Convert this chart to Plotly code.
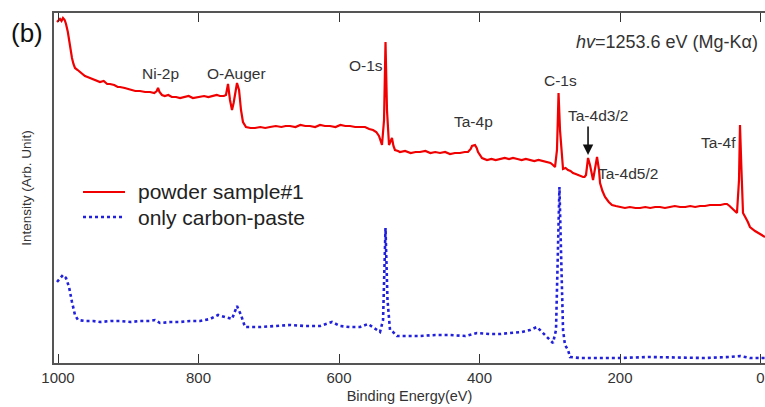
import plotly.graph_objects as go

# XPS survey spectra, binding energy in eV, intensity in arbitrary units
powder_be = [1001.4, 999, 997.2, 995, 992.9, 990.5, 988.6, 986, 984.3, 982, 980.1, 978, 975.8, 972, 968.7, 965,
             961.6, 958, 954.4, 950, 945, 940.2, 935, 930, 926, 920, 915, 911.7, 905, 900, 897.5, 890, 883.3, 876,
             869, 863, 859.5, 857.6, 855.5, 852, 848, 843, 838, 832, 826.3, 820, 814, 808, 802, 797.9, 792, 786,
             780, 774, 769.4, 764, 760.9, 758, 755.2, 752.3, 750, 748, 745.2, 742.3, 739.5, 736.7, 732.4, 726,
             719.6, 712, 705, 698.2, 690, 682, 676, 669.8, 662, 655, 648, 641.3, 634, 627, 620, 612.8, 605, 598,
             591, 584.3, 577, 570, 563, 557, 551.6, 547, 543.1, 538.8, 535.9, 533.8, 531.7, 528.8, 526.5, 524.6,
             522.5, 520.3, 516, 513.2, 506, 498, 491, 484.7, 477, 470, 463, 456.2, 449, 442, 435, 427.8, 421,
             416.4, 412.5, 410.7, 406.4, 404, 402.1, 399, 396.4, 389.3, 383, 377, 370.8, 364, 358, 352.3, 346,
             340, 334, 328.1, 322, 316, 310, 304, 299, 295.4, 292.5, 289.7, 287.5, 285.4, 283, 281.1, 277.5, 274,
             270.5, 266.9, 263, 259.8, 256, 252.6, 250.5, 248.4, 245.5, 242.7, 238.4, 235.6, 232.7, 229.9, 228.4,
             225, 221.3, 216, 211.4, 206, 200, 193, 186, 178, 171.5, 164, 157, 150, 143.1, 136, 129, 122, 114.6,
             107, 100, 93, 86.1, 79, 72, 64.8, 57, 51, 47.7, 44, 40.6, 37, 33.5, 30.6, 29.2, 27.1, 24.9, 22.5,
             20.6, 18, 15, 12, 7.8, 3, 0.7, -3, -6.4]
powder_int = [341, 343, 344, 342, 345, 343, 339, 331, 323, 313, 305, 299, 295, 293, 291, 289,
              287, 286, 285, 284, 282, 281, 282, 279, 279, 278, 276, 276, 275, 274, 274, 272, 272, 271,
              271, 270, 272, 275, 271, 268, 267, 268, 266, 266, 265, 266, 267, 265, 266, 266, 267, 266,
              267, 268, 267, 267, 268, 279, 263, 253, 260, 268, 280, 273, 253, 241, 236, 235,
              235, 236, 235, 236, 237, 236, 237, 237, 236, 238, 237, 237, 236, 238, 237, 237, 236, 238,
              237, 237, 236, 236, 236, 234, 233, 231, 227, 218, 243, 321, 253, 218, 222, 225,
              217, 213, 212, 211, 212, 210, 211, 211, 212, 210, 211, 210, 211, 209, 210, 210, 211,
              211, 214, 217, 218, 215, 211, 207, 205, 203, 204, 203, 204, 205, 204, 205, 204,
              203, 204, 203, 202, 203, 202, 201, 200, 198, 196, 213, 270, 233, 205, 194, 195, 193,
              192, 190, 189, 188, 187, 186, 186, 188, 205, 198, 183, 193, 206, 193, 180,
              172, 166, 161, 158, 157, 156, 155, 156, 155, 155, 156, 155, 156, 156, 155, 156, 157, 156,
              156, 157, 156, 157, 157, 158, 158, 158, 159, 159, 157, 155, 152, 150, 183, 238, 193, 150, 147,
              145, 141, 136, 134, 132, 130, 129, 128, 126]

paste_be = [1001.4, 997.2, 992.9, 988.6, 984.3, 980.1, 975.8, 971.5, 961.6, 950, 940.2, 925, 911.7, 897, 883.3,
            870, 861.9, 854.8, 840, 826.3, 812, 797.9, 783.6, 772.2, 762.3, 752.3, 745.2, 739.5, 733.8, 712.4,
            690, 669.8, 648, 627, 609.9, 598.6, 585, 570.1, 558.7, 548.7, 541.6, 537.3, 533.8, 531, 527.4,
            523.1, 517.4, 500, 484.7, 463, 442, 420, 403.6, 385, 370, 356.6, 340, 328.1, 318.2, 306.8, 295.4,
            291.1, 288.3, 286.2, 284, 281.1, 278.3, 274, 271.2, 257, 230, 200, 160, 114.6, 80, 43.4, 29.2, 15,
            -6.4]
paste_int = [81, 85, 88, 85, 76, 61, 48, 43, 42, 42, 41, 42, 42, 41, 42,
             42, 43, 40, 41, 41, 42, 42, 44, 48, 46, 44, 57, 48, 36, 36,
             37, 38, 37, 37, 41, 37, 36, 36, 39, 34, 31, 43, 135, 63, 33,
             31, 27, 27, 27, 28, 28, 27, 30, 29, 29, 30, 31, 33, 36, 28, 20,
             33, 103, 176, 113, 33, 18, 13, 6, 5, 5, 5, 6, 5.5, 5, 6, 7, 5,
             5]

peak_labels = ["Ni-2p", "O-Auger", "O-1s", "Ta-4p", "C-1s", "Ta-4d3/2", "Ta-4d5/2", "Ta-4f"]
peak_be = [854.8, 746.6, 561.6, 409.2, 285.4, 231.3, 188.6, 59.1]
peak_int = [290, 290, 298, 242, 283, 248, 190, 221]

legend_names = ["powder sample#1", "only carbon-paste"]

FONT = "Arial, Liberation Sans, sans-serif"
TXT = "#333333"
RED = "#f00000"
BLUE = "#2020dd"

fig = go.Figure()
fig.add_trace(go.Scatter(x=powder_be, y=powder_int, mode="lines", name=legend_names[0],
                         line=dict(color=RED, width=2.2)))
fig.add_trace(go.Scatter(x=paste_be, y=paste_int, mode="lines", name=legend_names[1],
                         line=dict(color=BLUE, width=2.6, dash="dot")))

# peak labels
for lab, xb, yi in zip(peak_labels, peak_be, peak_int):
    fig.add_annotation(x=xb, y=yi, text=lab, showarrow=False,
                       font=dict(family=FONT, size=15.5, color=TXT))

# arrow to Ta-4d3/2
fig.add_annotation(x=245.5, y=208, ax=245.5, ay=238, xref="x", yref="y", axref="x", ayref="y",
                   text="", showarrow=True, arrowhead=2, arrowsize=1.3, arrowwidth=1.6, arrowcolor="#111111")

fig.add_annotation(x=0.7, y=321, xanchor="right", text="<i>hv</i>=1253.6 eV (Mg-Kα)", showarrow=False,
                   font=dict(family=FONT, size=18, color=TXT))
fig.add_annotation(xref="paper", yref="paper", x=-0.038, y=0.943, xanchor="center", yanchor="middle",
                   text="(b)", showarrow=False, font=dict(family=FONT, size=26, color="#111111"))

# hand-drawn legend (tighter spacing than plotly's own)
for name, color, dash, yl in zip(legend_names, [RED, BLUE], ["solid", "dot"], [0.4886, 0.4171]):
    fig.add_shape(type="line", xref="paper", yref="paper", x0=0.0408, x1=0.0999, y0=yl, y1=yl,
                  line=dict(color=color, width=2.2 if dash == "solid" else 2.4, dash=dash))
    fig.add_annotation(xref="paper", yref="paper", x=0.1153, y=yl, xanchor="left", yanchor="middle",
                       text=name, showarrow=False, font=dict(family=FONT, size=21, color="#222222"))

fig.update_layout(
    width=765, height=407,
    margin=dict(l=54, r=0, t=13, b=44),
    paper_bgcolor="white", plot_bgcolor="white",
    font=dict(family=FONT, color=TXT),
    showlegend=False,
)
fig.update_xaxes(
    range=[1005.7, -6.4], tickvals=[1000, 800, 600, 400, 200, 0],
    ticks="inside", ticklen=9, tickwidth=1.2, tickcolor="#333333",
    showline=True, linecolor="#555555", linewidth=1.5, mirror="ticks",
    showgrid=False, zeroline=False, automargin=False,
    tickfont=dict(family=FONT, size=15, color=TXT),
    title=dict(text="Binding Energy(eV)", standoff=6, font=dict(family=FONT, size=14.5, color=TXT)),
)
fig.update_yaxes(
    range=[0, 350], showticklabels=False, ticks="",
    showline=True, linecolor="#555555", linewidth=1.5,
    showgrid=False, zeroline=False, automargin=False,
    title=dict(text="Intensity (Arb. Unit)", standoff=18, font=dict(family=FONT, size=13.5, color=TXT)),
)

fig.write_html("out.html", config={"displayModeBar": False},
               post_script="document.body.style.margin='0px';")
